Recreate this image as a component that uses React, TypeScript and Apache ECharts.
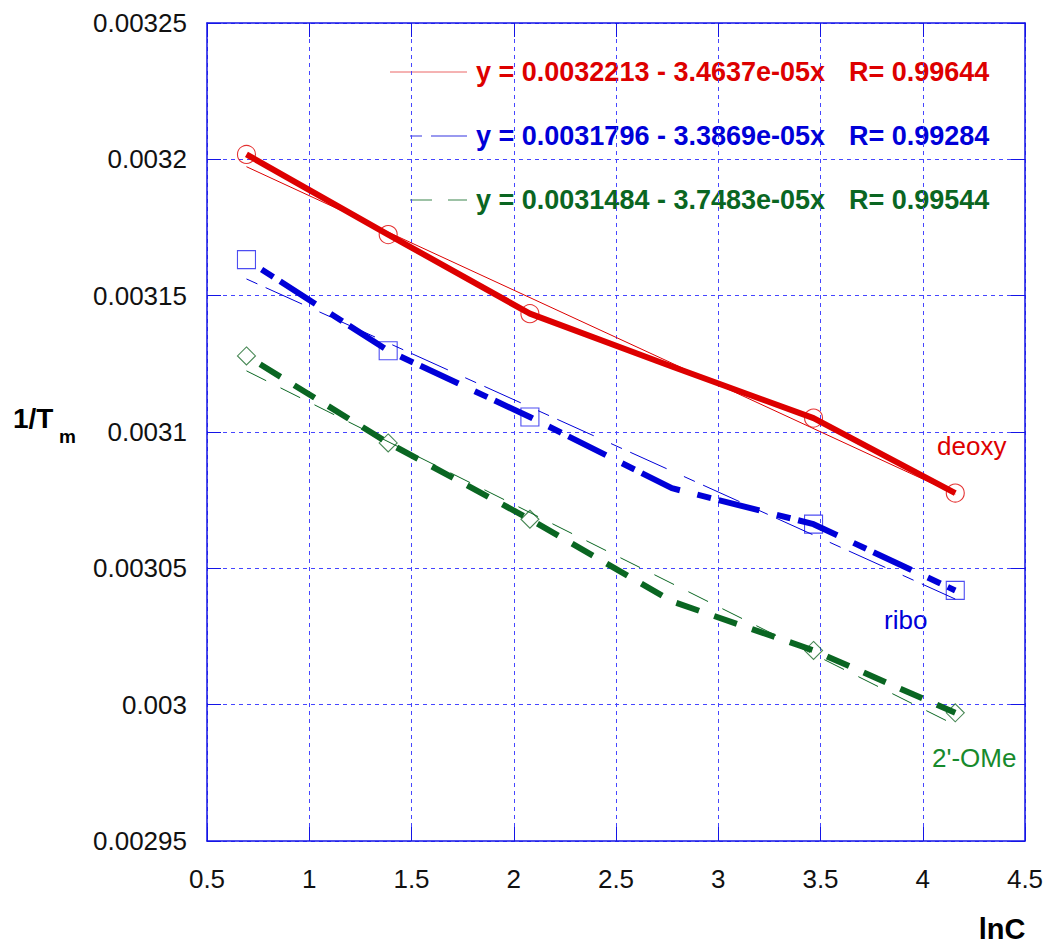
import React, { useEffect, useRef } from "react";
import * as echarts from "echarts";

// ---- data ----
const lnC = [0.693, 1.386, 2.079, 3.466, 4.159];
const deoxyPts = [0.0032018, 0.0031724, 0.0031434, 0.0031051, 0.0030776];
const riboPts = [0.0031632, 0.0031298, 0.0031055, 0.0030662, 0.0030419];
const omePts = [0.0031279, 0.003096, 0.003068, 0.0030199, 0.002997];

const curveX = [0.693, 1.386, 2.079, 2.773, 3.466, 4.159];
const deoxyCurve = [0.0032018, 0.0031724, 0.0031434, 0.003124, 0.0031051, 0.0030776];
const riboCurve = [0.0031632, 0.0031298, 0.0031055, 0.0030794, 0.0030662, 0.0030419];
const omeCurve = [0.0031279, 0.003096, 0.003068, 0.0030379, 0.0030199, 0.002997];

const fitIntercept = [0.0032213, 0.0031796, 0.0031484];
const fitSlope = [-3.4637e-5, -3.3869e-5, -3.7483e-5];
const fitR = [0.99644, 0.99284, 0.99544];

const seriesNames = ["deoxy", "ribo", "2'-OMe"];
const xTicks = { min: 0.5, max: 4.5, step: 0.5 };
const yTicks = { min: 0.00295, max: 0.00325, step: 0.00005 };

const FONT = "'Liberation Sans', Arial, Helvetica, sans-serif";
const RED = "#dd0000";
const BLUE = "#0000d8";
const GREEN = "#0a6622";
const GREEN_LABEL = "#178a2c";
const AXIS = "#1414e6";
const GRID = "#4646ff";

function fmtExp(v: number): string {
  const s = v.toExponential(4); // e.g. 3.4637e-5
  return s.replace(/e([+-])(\d)$/, "e$10$2");
}

function eqText(i: number): string {
  const b = fitSlope[i];
  const sign = b < 0 ? "-" : "+";
  return `y = ${fitIntercept[i]} ${sign} ${fmtExp(Math.abs(b))}x`;
}

export default function App() {
  const ref = useRef<HTMLDivElement>(null);

  useEffect(() => {
    document.body.style.margin = "0";
    if (!ref.current) return;
    const chart = echarts.init(ref.current, null, { renderer: "svg" });

    const zip = (xs: number[], ys: number[]) => xs.map((x, i) => [x, ys[i]]);
    const fitLine = (i: number) => {
      const x0 = lnC[0];
      const x1 = lnC[lnC.length - 1];
      return [
        [x0, fitIntercept[i] + fitSlope[i] * x0],
        [x1, fitIntercept[i] + fitSlope[i] * x1],
      ];
    };

    const colors = [RED, BLUE, GREEN];
    const thinDash: any[] = ["solid", [12, 9, 40, 19], [22, 16]];
    const thickDash: any[] = ["solid", [14, 8, 42, 18], [24, 16]];
    const thickOffset = [0, 64, 24];
    const markerSym = ["circle", "rect", "diamond"];
    const markerColor = [RED, "#2020ee", "#1a6a2a"];
    const pts = [deoxyPts, riboPts, omePts];
    const curves = [deoxyCurve, riboCurve, omeCurve];

    const series: any[] = [];
    for (let i = 0; i < 3; i++) {
      series.push({
        name: seriesNames[i] + " pts",
        type: "scatter",
        data: zip(lnC, pts[i]),
        symbol: markerSym[i],
        symbolSize: 18,
        itemStyle: { color: "rgba(0,0,0,0)", borderColor: markerColor[i], borderWidth: 1.1 },
        z: 2,
      });
    }
    for (let i = 0; i < 3; i++) {
      series.push({
        name: seriesNames[i] + " fit",
        type: "line",
        data: fitLine(i),
        showSymbol: false,
        symbol: "none",
        lineStyle: { color: colors[i], width: 1, type: thinDash[i] },
        z: 3,
      });
    }
    for (let i = 0; i < 3; i++) {
      series.push({
        name: seriesNames[i],
        type: "line",
        data: zip(curveX, curves[i]),
        showSymbol: false,
        symbol: "none",
        lineStyle: {
          color: colors[i],
          width: 6,
          type: thickDash[i],
          dashOffset: thickOffset[i],
          cap: "butt",
          join: "round",
        },
        z: 4,
      });
    }

    const axisCommon = {
      type: "value",
      axisLine: { show: true, onZero: false, lineStyle: { color: AXIS, width: 1.5 } },
      axisTick: { show: true, inside: true, length: 14, lineStyle: { color: AXIS, width: 1 } },
    };

    const legendRowsY = [72, 136, 200];
    const graphic: any[] = [];
    for (let i = 0; i < 3; i++) {
      const y = legendRowsY[i];
      graphic.push({
        type: "line",
        shape: { x1: i === 0 ? 390 : 410, y1: y, x2: 467, y2: y },
        style: {
          stroke: colors[i],
          lineWidth: 1,
          lineDash: i === 0 ? null : thinDash[i],
          opacity: i === 0 ? 0.6 : 0.8,
        },
      });
      graphic.push({
        type: "text",
        x: 476,
        y,
        style: {
          text: eqText(i),
          fill: colors[i],
          font: `bold 27px ${FONT}`,
          textAlign: "left",
          textVerticalAlign: "middle",
        },
      });
      graphic.push({
        type: "text",
        x: 849,
        y,
        style: {
          text: `R= ${fitR[i]}`,
          fill: colors[i],
          font: `bold 27px ${FONT}`,
          textAlign: "left",
          textVerticalAlign: "middle",
        },
      });
    }
    const annotPos = [
      [937, 446, RED],
      [884, 620, BLUE],
      [932, 758, GREEN_LABEL],
    ];
    for (let i = 0; i < 3; i++) {
      graphic.push({
        type: "text",
        x: annotPos[i][0],
        y: annotPos[i][1],
        style: {
          text: seriesNames[i],
          fill: annotPos[i][2],
          font: `26px ${FONT}`,
          textAlign: "left",
          textVerticalAlign: "middle",
        },
      });
    }
    graphic.push({
      type: "text",
      x: 13,
      y: 418,
      style: {
        text: "1/T",
        fill: "#000",
        font: `bold 28px ${FONT}`,
        textAlign: "left",
        textVerticalAlign: "middle",
      },
    });
    graphic.push({
      type: "text",
      x: 59,
      y: 436,
      style: {
        text: "m",
        fill: "#000",
        font: `bold 19px ${FONT}`,
        textAlign: "left",
        textVerticalAlign: "middle",
      },
    });
    graphic.push({
      type: "text",
      x: 1002,
      y: 929,
      style: {
        text: "lnC",
        fill: "#000",
        font: `bold 29px ${FONT}`,
        textAlign: "center",
        textVerticalAlign: "middle",
      },
    });

    chart.setOption({
      animation: false,
      backgroundColor: "#ffffff",
      grid: { left: 207, right: 22, top: 23, bottom: 105, containLabel: false },
      xAxis: [
        {
          ...axisCommon,
          position: "bottom",
          min: xTicks.min,
          max: xTicks.max,
          interval: xTicks.step,
          axisLabel: {
            show: true,
            margin: 25,
            fontSize: 26,
            color: "#111",
            fontFamily: FONT,
            showMinLabel: true,
            showMaxLabel: true,
            formatter: (v: number) => String(parseFloat(v.toFixed(2))),
          },
          splitLine: { show: true, lineStyle: { color: GRID, width: 1, type: [4, 4] } },
        },
        {
          ...axisCommon,
          position: "top",
          min: xTicks.min,
          max: xTicks.max,
          interval: xTicks.step,
          axisLabel: { show: false },
          splitLine: { show: false },
        },
      ],
      yAxis: [
        {
          ...axisCommon,
          position: "left",
          min: yTicks.min,
          max: yTicks.max,
          interval: yTicks.step,
          axisLabel: {
            show: true,
            margin: 20,
            fontSize: 26,
            color: "#111",
            fontFamily: FONT,
            showMinLabel: true,
            showMaxLabel: true,
            formatter: (v: number) => String(parseFloat(v.toFixed(5))),
          },
          splitLine: { show: true, lineStyle: { color: GRID, width: 1, type: [4, 4] } },
        },
        {
          ...axisCommon,
          position: "right",
          min: yTicks.min,
          max: yTicks.max,
          interval: yTicks.step,
          axisLabel: { show: false },
          splitLine: { show: false },
        },
      ],
      series,
      graphic,
    });

    return () => {
      chart.dispose();
    };
  }, []);

  return <div ref={ref} style={{ width: 1047, height: 946 }} />;
}
